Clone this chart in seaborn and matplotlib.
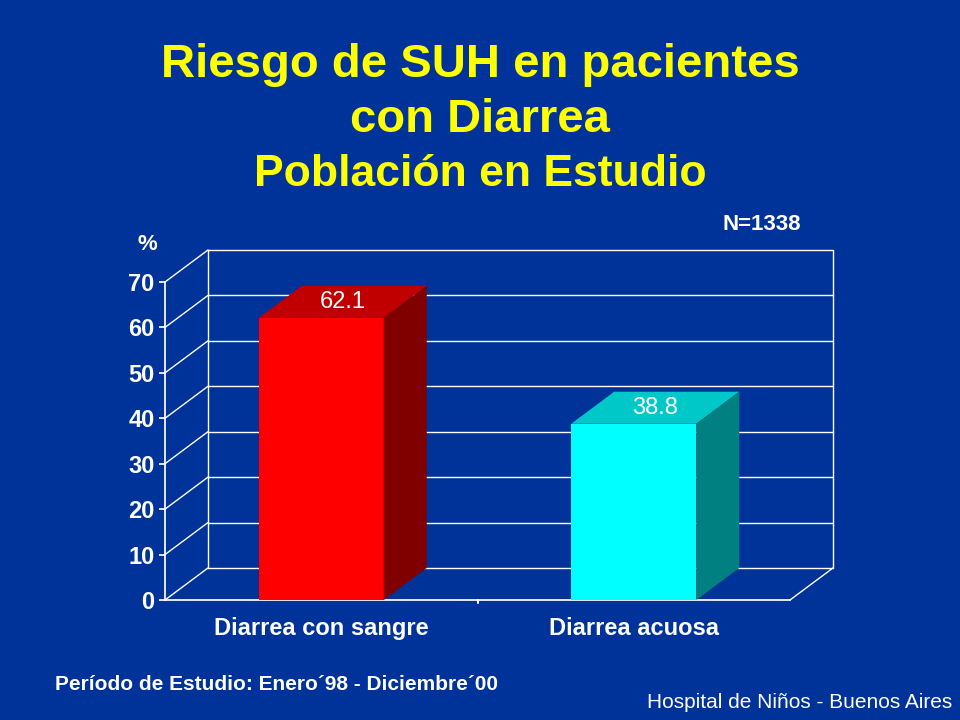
import matplotlib
matplotlib.use("Agg")
import matplotlib.pyplot as plt
from matplotlib.patches import Polygon
import seaborn as sns
import pandas as pd

categories = ["Diarrea con sangre", "Diarrea acuosa"]
values = [62.1, 38.8]
labels = ["62.1", "38.8"]
front_colors = ["#FF0000", "#00FFFF"]
top_colors = ["#C00000", "#00C8C8"]
side_colors = ["#800000", "#008080"]
yticks = [0, 10, 20, 30, 40, 50, 60, 70]

bg = "#003399"
sns.set_theme(style="white")
plt.rcParams["font.family"] = ["Liberation Sans", "DejaVu Sans"]

fig = plt.figure(figsize=(9.6, 7.2), dpi=100, facecolor=bg)
ax = fig.add_axes([165 / 960, 120 / 720, 625 / 960, 318 / 720])
ax.set_facecolor("none")

df = pd.DataFrame({"cat": categories, "val": values})
sns.barplot(data=df, x="cat", y="val", hue="cat", palette=front_colors,
            width=0.4, ax=ax, legend=False, saturation=1, zorder=3,
            edgecolor="none", linewidth=0)

ax.set_xlim(-0.5, 1.5)
ax.set_ylim(0, 70)
dx, dy = 0.1376, 7.05
grid_c = "#FFFFFF"

# back wall and left wall grid
for v in yticks:
    ax.plot([-0.5 + dx, 1.5 + dx], [v + dy, v + dy], color=grid_c, lw=1, clip_on=False, zorder=1)
    ax.plot([-0.5, -0.5 + dx], [v, v + dy], color=grid_c, lw=1, clip_on=False, zorder=1)
ax.plot([-0.5 + dx] * 2, [dy, 70 + dy], color=grid_c, lw=1, clip_on=False, zorder=1)
ax.plot([1.5 + dx] * 2, [dy, 70 + dy], color=grid_c, lw=1, clip_on=False, zorder=1)
ax.plot([1.5, 1.5 + dx], [0, dy], color=grid_c, lw=1, clip_on=False, zorder=1)

# 3D bar top and side
for i, p in enumerate(ax.patches):
    x0, w, h = p.get_x(), p.get_width(), p.get_height()
    ax.add_patch(Polygon([(x0, h), (x0 + dx, h + dy), (x0 + w + dx, h + dy), (x0 + w, h)],
                         closed=True, facecolor=top_colors[i], edgecolor="none",
                         clip_on=False, zorder=3))
    ax.add_patch(Polygon([(x0 + w, 0), (x0 + w + dx, dy), (x0 + w + dx, h + dy), (x0 + w, h)],
                         closed=True, facecolor=side_colors[i], edgecolor="none",
                         clip_on=False, zorder=3))
    ax.text(x0 + w / 2 + dx / 2, h + dy / 2, labels[i], color="white", fontsize=17,
            ha="center", va="center", zorder=4)

for s in ["top", "right"]:
    ax.spines[s].set_visible(False)
for s in ["left", "bottom"]:
    ax.spines[s].set_color("white")
ax.set_yticks(yticks)
ax.tick_params(axis="y", colors="white", labelsize=17, length=4, left=True)
ax.tick_params(axis="x", colors="white", labelsize=17, length=0, pad=12)
ax.axvline(0.5, ymin=0, ymax=-0.01, color="white", clip_on=False)
for t in ax.get_yticklabels() + ax.get_xticklabels():
    t.set_fontweight("bold")
ax.set_xlabel("")
ax.set_ylabel("")

fig.text(0.5, 1 - 65 / 720, "Riesgo de SUH en pacientes", color="#FFFF00", fontsize=34,
         fontweight="bold", ha="center", va="center")
fig.text(0.5, 1 - 120 / 720, "con Diarrea", color="#FFFF00", fontsize=34,
         fontweight="bold", ha="center", va="center")
fig.text(0.5, 1 - 175 / 720, "Población en Estudio", color="#FFFF00", fontsize=32,
         fontweight="bold", ha="center", va="center")
fig.text(762 / 960, 1 - 225 / 720, "N=1338", color="white", fontsize=16,
         fontweight="bold", ha="center", va="center")
fig.text(147 / 960, 1 - 245 / 720, "%", color="white", fontsize=16,
         fontweight="bold", ha="center", va="center")
fig.text(55 / 960, 1 - 684 / 720, "Período de Estudio: Enero´98 - Diciembre´00", color="white",
         fontsize=15, fontweight="bold", ha="left", va="center")
fig.text(952 / 960, 1 - 703 / 720, "Hospital de Niños - Buenos Aires", color="white",
         fontsize=15, ha="right", va="center")

fig.savefig("out.png", dpi=100, facecolor=bg)
